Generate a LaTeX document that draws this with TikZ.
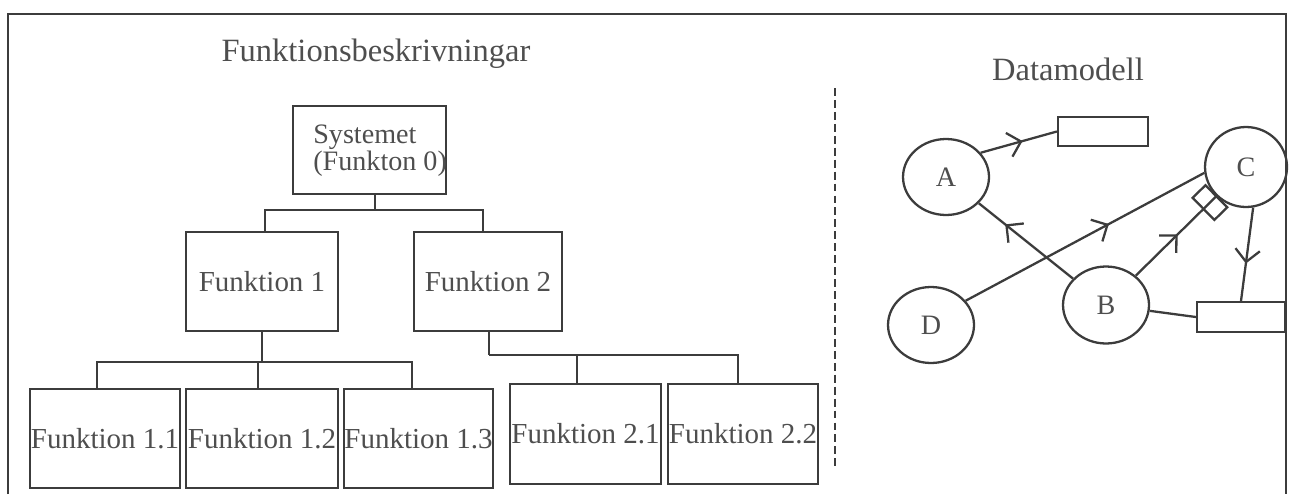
\documentclass[tikz,border=0pt]{standalone}
\usepackage{fontspec}
\setmainfont{Liberation Serif}
\usetikzlibrary{shapes.geometric,arrows.meta,decorations.markings}
\definecolor{ink}{HTML}{3C3C3C}
\definecolor{txt}{HTML}{4E4E4E}
\tikzset{
  frame/.style={draw=ink, line width=1.1pt},
  box/.style={draw=ink, line width=1.3pt, rectangle, inner sep=0pt, text=txt,
              font=\fontsize{16.5}{19}\selectfont},
  conn/.style={draw=ink, line width=1.3pt},
  titletext/.style={text=txt, font=\fontsize{18.5}{22}\selectfont, inner sep=0pt},
  ent/.style={draw=ink, line width=1.3pt, ellipse, inner sep=0pt, text=txt,
              font=\fontsize{16}{19}\selectfont},
  store/.style={draw=ink, line width=1.3pt, rectangle, inner sep=0pt},
  rel/.style={draw=ink, line width=1.3pt},
  midarrow/.style={postaction={decorate}, decoration={markings,
     mark=at position #1 with {\arrow[ink, line width=1.3pt]{Straight Barb[length=7pt, width=14pt]}}}},
  sep/.style={draw=ink, line width=1.6pt, dash pattern=on 4.5pt off 2.3pt}
}
\begin{document}
\begin{tikzpicture}[x=0.02cm, y=-0.02cm]
\useasboundingbox (0,0) rectangle (1290,494);
% outer frame
\draw[frame] (8,494) -- (8,14) -- (1286,14) -- (1286,494);

% titles
\node[titletext, anchor=base] (t1) at (376,61) {Funktionsbeskrivningar};
\node[titletext, anchor=base] (t2) at (1068,80) {Datamodell};

% separator
\draw[sep] (835,88) -- (835,466);

% function hierarchy
\node[box, minimum width=3.06cm, minimum height=1.76cm] (sys) at (369.5,150) {};
\node[text=txt, font=\fontsize{16}{12.5}\selectfont, align=left, anchor=west, inner sep=0pt] (systxt) at (313,151) {Systemet\\(Funkton 0)};

\node[box, minimum width=3.04cm, minimum height=1.98cm] (f1) at (262,281.5) {Funktion 1};
\node[box, minimum width=2.96cm, minimum height=1.98cm] (f2) at (488,281.5) {Funktion 2};

\node[box, minimum width=3.0cm, minimum height=1.98cm] (f11) at (105,438.5) {Funktion 1.1};
\node[box, minimum width=3.04cm, minimum height=1.98cm] (f12) at (262,438.5) {Funktion 1.2};
\node[box, minimum width=2.98cm, minimum height=1.98cm] (f13) at (418.5,438.5) {Funktion 1.3};

\node[box, minimum width=3.02cm, minimum height=2.0cm] (f21) at (585.5,434) {Funktion 2.1};
\node[box, minimum width=3.0cm, minimum height=2.0cm] (f22) at (743,434) {Funktion 2.2};

\coordinate (j0) at (375,210);
\coordinate (j1) at (262,362);
\coordinate (j2) at (489,355);

\draw[conn] (sys.south -| j0) -- (j0);
\draw[conn] ([xshift=0.06cm]f1.north) |- (j0) -| ([xshift=-0.1cm]f2.north);

\draw[conn] (f1.south) -- (j1);
\draw[conn] ([xshift=-0.16cm]f11.north) |- (j1) -| ([xshift=-0.13cm]f13.north);
\draw[conn] ([xshift=-0.08cm]f12.north) |- (j1);

\draw[conn] (f2.south -| j2) -- (j2);
\draw[conn] ([xshift=-0.17cm]f21.north) |- (j2) -| ([xshift=-0.1cm]f22.north);

% data model
\node[ent, minimum width=1.72cm, minimum height=1.52cm] (A) at (946,177) {A};
\node[ent, minimum width=1.64cm, minimum height=1.6cm] (C) at (1246,167) {C};
\node[ent, minimum width=1.72cm, minimum height=1.54cm] (B) at (1106,305) {B};
\node[ent, minimum width=1.72cm, minimum height=1.52cm] (D) at (931,325) {D};
\node[store, minimum width=1.8cm, minimum height=0.58cm] (R1) at (1103,131.5) {};
\node[store, minimum width=1.76cm, minimum height=0.6cm] (R2) at (1241,317) {};

\draw[rel, midarrow=0.55] (A.35) -- (R1.west);
\draw[rel, midarrow=0.72] (B) -- (A);
\draw[rel, midarrow=0.6] (D.35) -- (C.188);
\draw[rel, midarrow=0.52] (B) -- (C);
\path (B) -- (C) node[pos=0.92, sloped, draw=ink, line width=1.3pt, rectangle,
   minimum width=0.36cm, minimum height=0.62cm, inner sep=0pt] (sq) {};
\draw[rel, midarrow=0.6] (C.-80) -- (R2.north);
\draw[rel] (B) -- (R2.west);
\end{tikzpicture}
\end{document}
